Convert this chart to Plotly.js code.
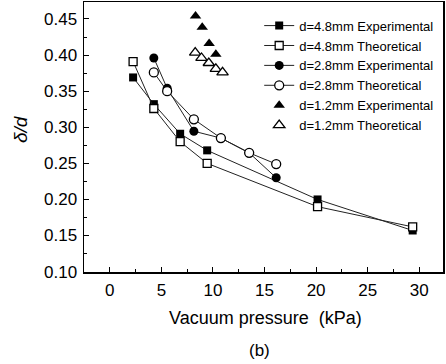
<!DOCTYPE html>
<html>
<head>
<meta charset="utf-8">
<script src="https://cdn.plot.ly/plotly-3.0.1.min.js"></script>
<style>html,body{margin:0;padding:0;background:#fff}#chart{width:446px;height:364px}</style>
</head>
<body>
<div id="chart"></div>
<script>
// Data
var p48 = [2.26, 4.27, 6.82, 9.44, 20.14, 29.36];
var exp48 = [0.369, 0.332, 0.291, 0.268, 0.200, 0.157];
var theo48 = [0.391, 0.326, 0.280, 0.250, 0.190, 0.162];

var p28 = [4.27, 5.56, 8.15, 10.77, 13.51, 16.13];
var exp28 = [0.396, 0.354, 0.2945, 0.285, 0.2646, 0.230];
var theo28 = [0.376, 0.350, 0.311, 0.285, 0.2646, 0.249];

var p12exp = [8.31, 8.96, 9.63, 10.28];
var exp12 = [0.454, 0.4385, 0.416, 0.401];
var p12theo = [8.28, 8.89, 9.60, 10.28, 10.93];
var theo12 = [0.4035, 0.396, 0.389, 0.381, 0.376];

var names = ['d=4.8mm Experimental', 'd=4.8mm Theoretical', 'd=2.8mm Experimental',
             'd=2.8mm Theoretical', 'd=1.2mm Experimental', 'd=1.2mm Theoretical'];

var FONT = 'Liberation Sans, Arial, sans-serif';
var lineStyle = {color: '#222', width: 1};

var traces = [
  {x: p48, y: exp48, name: names[0], mode: 'lines+markers', line: lineStyle,
   marker: {symbol: 'square', size: 8, color: '#000'}},
  {x: p48, y: theo48, name: names[1], mode: 'lines+markers', line: lineStyle,
   marker: {symbol: 'square', size: 8, color: '#fff', line: {color: '#000', width: 1.3}}},
  {x: p28, y: exp28, name: names[2], mode: 'lines+markers', line: lineStyle,
   marker: {symbol: 'circle', size: 9, color: '#000'}},
  {x: p28, y: theo28, name: names[3], mode: 'lines+markers', line: lineStyle,
   marker: {symbol: 'circle', size: 9, color: '#fff', line: {color: '#000', width: 1.3}}},
  {x: p12exp, y: exp12, name: names[4], mode: 'markers',
   marker: {symbol: 'triangle-up', size: 10, color: '#000'}},
  {x: p12theo, y: theo12, name: names[5], mode: 'markers',
   marker: {symbol: 'triangle-up', size: 10, color: '#fff', line: {color: '#000', width: 1.3}}}
];

var layout = {
  width: 446, height: 364,
  margin: {l: 84, r: 3, t: 2, b: 92},
  paper_bgcolor: '#fff', plot_bgcolor: '#fff',
  font: {family: FONT, color: '#000', size: 17},
  showlegend: true,
  legend: {x: 0.488, y: 0.968, xanchor: 'left', yanchor: 'top',
           bgcolor: 'rgba(0,0,0,0)', font: {family: FONT, size: 13, color: '#000'},
           itemwidth: 30, tracegroupgap: 0},
  xaxis: {range: [-2.5, 32.3], tickmode: 'array', tickvals: [0, 5, 10, 15, 20, 25, 30],
          ticks: 'inside', ticklen: 5, tickwidth: 1, tickcolor: '#000',
          minor: {dtick: 2.5, tick0: 0, ticks: 'inside', ticklen: 3, tickcolor: '#000'},
          showline: true, linecolor: '#000', linewidth: 1.5, mirror: true,
          showgrid: false, zeroline: false, ticklabelstandoff: 2,
          tickfont: {family: FONT, size: 17}},
  yaxis: {range: [0.0995, 0.4735], tickmode: 'array',
          tickvals: [0.10, 0.15, 0.20, 0.25, 0.30, 0.35, 0.40, 0.45],
          ticktext: ['0.10', '0.15', '0.20', '0.25', '0.30', '0.35', '0.40', '0.45'],
          ticks: 'inside', ticklen: 5, tickwidth: 1, tickcolor: '#000',
          minor: {dtick: 0.025, tick0: 0.1, ticks: 'inside', ticklen: 3, tickcolor: '#000'},
          showline: true, linecolor: '#000', linewidth: 1.5, mirror: true,
          showgrid: false, zeroline: false, ticklabelstandoff: 2,
          tickfont: {family: FONT, size: 17}},
  annotations: [
    {text: 'Vacuum pressure  (kPa)', xref: 'paper', yref: 'paper', x: 0.505, y: -0.17,
     xanchor: 'center', yanchor: 'middle', showarrow: false, font: {family: FONT, size: 18}},
    {text: '(b)', xref: 'paper', yref: 'paper', x: 0.49, y: -0.29,
     xanchor: 'center', yanchor: 'middle', showarrow: false, font: {family: FONT, size: 17}},
    {text: '<i>δ/d</i>', xref: 'paper', yref: 'paper', x: -0.175, y: 0.53, textangle: -90,
     xanchor: 'center', yanchor: 'middle', showarrow: false, font: {family: FONT, size: 19}}
  ]
};

Plotly.newPlot('chart', traces, layout, {displayModeBar: false, staticPlot: true});
</script>
</body>
</html>
